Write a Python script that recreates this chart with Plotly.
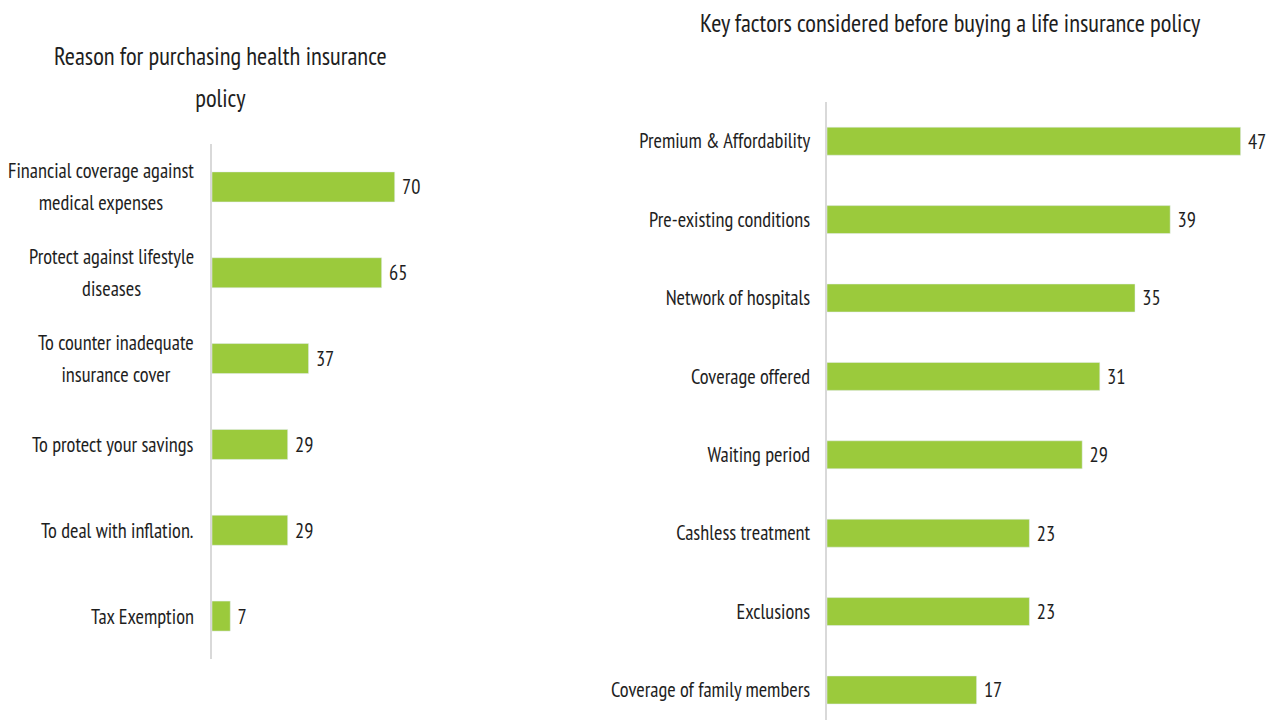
import plotly.graph_objects as go

# Left chart data (top to bottom)
left_categories = [
    "Financial coverage against<br>medical expenses",
    "Protect against lifestyle<br>diseases",
    "To counter inadequate<br>insurance cover",
    "To protect your savings",
    "To deal with inflation.",
    "Tax Exemption",
]
left_values = [70, 65, 37, 29, 29, 7]
left_title = "Reason for purchasing health insurance<br>policy"

# Right chart data (top to bottom)
right_categories = [
    "Premium & Affordability",
    "Pre-existing conditions",
    "Network of hospitals",
    "Coverage offered",
    "Waiting period",
    "Cashless treatment",
    "Exclusions",
    "Coverage of family members",
]
right_values = [47, 39, 35, 31, 29, 23, 23, 17]
right_title = "Key factors considered before buying a life insurance policy"

FONT = "'PT Sans Narrow', 'Roboto Condensed', 'DejaVu Sans Condensed', sans-serif"
GREEN = "#9BCA3C"
TXT = "#1E1E1E"
AX = "#D9D9D9"
LBL = 20.4
TTL = 24.6
# page body has an 8px margin; the figure is sized to fill the rest of the window
OFF = 8
W, H = 1280 - OFF, 720 - OFF


def px(x):
    return (x - OFF) / W


def py(y):
    return 1 - (y - OFF) / H


def spaced(text, glyph_size):
    # wrap each line so glyphs use glyph_size while line spacing follows the annotation font size
    return "<br>".join(f"<span style='font-size:{glyph_size}px'>{ln}</span>" for ln in text.split("<br>"))


lc = left_categories[::-1]
lv = left_values[::-1]
rc = right_categories[::-1]
rv = right_values[::-1]

fig = go.Figure()
fig.add_trace(go.Bar(
    x=lv, y=lc, orientation="h", marker_color=GREEN, width=0.35,
    text=[f" {v}" for v in lv], textposition="outside", cliponaxis=False,
    textfont=dict(family=FONT, size=LBL, color=TXT),
    xaxis="x", yaxis="y", hoverinfo="skip", showlegend=False,
))
fig.add_trace(go.Bar(
    x=rv, y=rc, orientation="h", marker_color=GREEN, width=0.357,
    text=[f" {v}" for v in rv], textposition="outside", cliponaxis=False,
    textfont=dict(family=FONT, size=LBL, color=TXT),
    xaxis="x2", yaxis="y2", hoverinfo="skip", showlegend=False,
))

annotations = []
for c in lc:
    annotations.append(dict(
        x=px(196), xref="paper", y=c, yref="y", text=spaced(c, LBL), showarrow=False,
        xanchor="right", yanchor="middle", align="center",
        font=dict(family=FONT, size=32 / 1.3, color=TXT),
    ))
annotations.append(dict(
    x=px(220), xref="paper", y=py(77), yref="paper", text=spaced(left_title, TTL),
    showarrow=False, xanchor="center", yanchor="middle", align="center",
    font=dict(family=FONT, size=42 / 1.3, color=TXT),
))
annotations.append(dict(
    x=px(950), xref="paper", y=py(23), yref="paper", text=right_title,
    showarrow=False, xanchor="center", yanchor="middle", align="center",
    font=dict(family=FONT, size=TTL, color=TXT),
))

fig.update_layout(
    width=W, height=H,
    margin=dict(l=0, r=0, t=0, b=0),
    paper_bgcolor="white", plot_bgcolor="white",
    font=dict(family=FONT, size=LBL, color=TXT),
    xaxis=dict(domain=[px(212), px(473)], range=[0, 100], visible=False, fixedrange=True),
    yaxis=dict(domain=[py(659), py(144)], type="category", range=[-0.5, 5.5],
               showticklabels=False, showline=True, linecolor=AX, linewidth=1.5,
               showgrid=False, zeroline=False, ticks=""),
    xaxis2=dict(domain=[px(827), px(1267)], range=[0, 50], visible=False, fixedrange=True,
                anchor="y2"),
    yaxis2=dict(domain=[0, py(102)], type="category", range=[-0.383, 7.5],
                anchor="x2", showline=True, linecolor=AX, linewidth=1.5,
                showgrid=False, zeroline=False, ticks="", ticklabelstandoff=11,
                tickfont=dict(family=FONT, size=LBL, color=TXT)),
    annotations=annotations,
)

fig.write_html("out.html")
